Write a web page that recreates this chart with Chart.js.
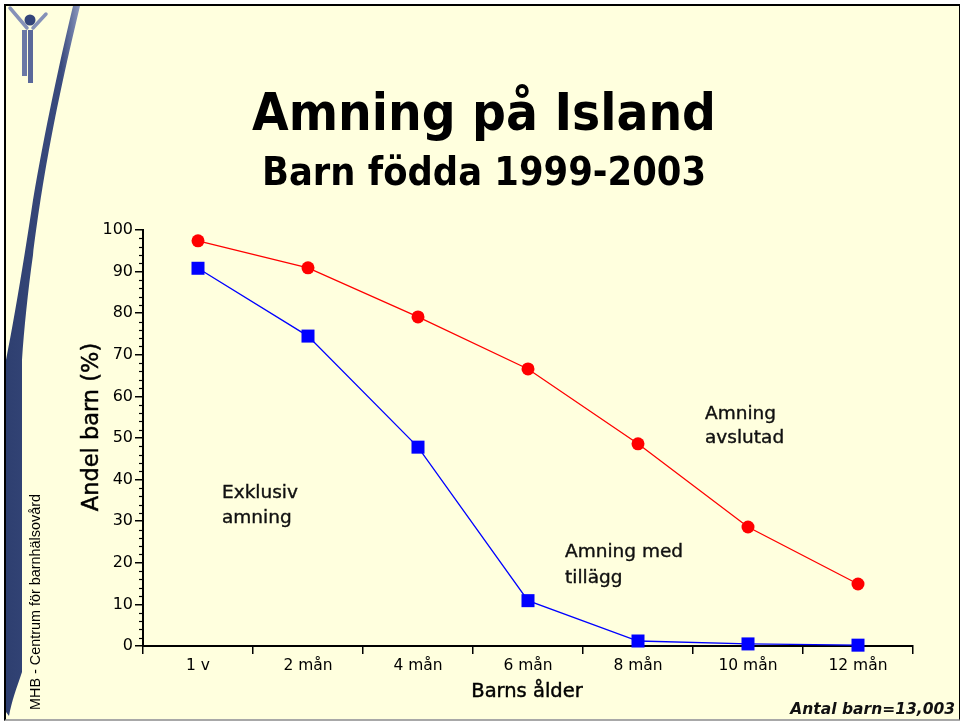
<!DOCTYPE html>
<html><head><meta charset="utf-8">
<script src="https://cdn.jsdelivr.net/npm/chart.js@4.4.1/dist/chart.umd.min.js"></script>
<style>
html,body{margin:0;padding:0;background:#fff;}
#wrap{position:relative;width:960px;height:722px;overflow:hidden;}
#frame{position:absolute;left:4px;top:4px;width:953px;height:713px;background:#FFFFDE;border-left:2px solid #000;border-top:2px solid #000;border-right:2px solid #000;border-bottom:2px solid #a8a8a8;}
svg,canvas{position:absolute;left:0;top:0;}
#txt{pointer-events:none;}
</style></head>
<body>
<div id="wrap">
<div id="frame"></div>
<svg id="deco" width="960" height="722">
  <defs>
    <linearGradient id="bandG" x1="0" x2="1" y1="0" y2="0">
      <stop offset="0" stop-color="#2e3f70"/>
      <stop offset="0.75" stop-color="#3a4b7e"/>
      <stop offset="1" stop-color="#8e9ac0"/>
    </linearGradient>
  </defs>
  <path d="M73,6 C60,60 45,130 33,200 C24,260 14,320 6,360 L6,712 L9,716 C12,700 16,690 22,672 L22,360 C24,330 28,290 33,255 C40,200 50,130 80,6 Z" fill="url(#bandG)"/>
  <line x1="10" y1="8" x2="27" y2="28" stroke="#8591b8" stroke-width="3.5" stroke-linecap="round"/>
  <line x1="46" y1="14" x2="33" y2="28" stroke="#8591b8" stroke-width="3.5" stroke-linecap="round"/>
  <circle cx="30" cy="20" r="5.5" fill="#34457a"/>
  <rect x="22" y="30" width="5" height="46" fill="#6a78a6"/>
  <rect x="28" y="30" width="5" height="53" fill="#5a689a"/>
</svg>
<canvas id="c" width="960" height="722" style="width:960px;height:722px"></canvas>
<svg id="txt" width="960" height="722">
  <text x="484" y="130" text-anchor="middle" font-family="DejaVu Sans" font-weight="bold" font-size="52" textLength="464" lengthAdjust="spacingAndGlyphs" fill="#000">Amning på Island</text>
  <text x="484" y="185" text-anchor="middle" font-family="DejaVu Sans" font-weight="bold" font-size="39" textLength="444" lengthAdjust="spacingAndGlyphs" fill="#000">Barn födda 1999-2003</text>
  <g stroke="#000" stroke-width="0.45">
    <text transform="translate(98,427) rotate(-90)" text-anchor="middle" font-family="DejaVu Sans" font-size="22.5" fill="#000">Andel barn (%)</text>
    <text x="527" y="697" text-anchor="middle" font-family="DejaVu Sans" font-size="19.5" fill="#000">Barns ålder</text>
  </g>
  <g font-family="DejaVu Sans" font-size="18.5" fill="#111" stroke="#111" stroke-width="0.4">
    <text x="222" y="498">Exklusiv</text>
    <text x="222" y="523">amning</text>
    <text x="565" y="557">Amning med</text>
    <text x="565" y="583">tillägg</text>
    <text x="705" y="419">Amning</text>
    <text x="705" y="443">avslutad</text>
  </g>
  <text x="955" y="714" text-anchor="end" font-family="DejaVu Sans" font-weight="bold" font-style="italic" font-size="15.5" fill="#111">Antal barn=13,003</text>
  <text transform="translate(40,710) rotate(-90)" font-family="Liberation Sans" font-size="15" textLength="216" lengthAdjust="spacingAndGlyphs" fill="#000">MHB - Centrum för barnhälsovård</text>
</svg>
</div>
<script>
// ---- data ----
const categories = ['1 v', '2 mån', '4 mån', '6 mån', '8 mån', '10 mån', '12 mån'];
const amningTotal = [97.4, 90.9, 79.1, 66.6, 48.6, 28.6, 14.9];   // red circles
const exklusivAmning = [90.8, 74.5, 47.8, 10.9, 1.2, 0.5, 0.2];   // blue squares
const yTickValues = [0, 10, 20, 30, 40, 50, 60, 70, 80, 90, 100];
const yMinorStep = 2;

const minorTicks = {
  id: 'minorTicks',
  afterDraw(chart) {
    const ys = chart.scales.y, ctx = chart.ctx, x0 = chart.chartArea.left;
    ctx.save();
    ctx.strokeStyle = '#000';
    ctx.lineWidth = 1.2;
    for (let v = ys.min; v <= ys.max; v += yMinorStep) {
      if (yTickValues.includes(v)) continue;
      const py = Math.round(ys.getPixelForValue(v)) + 0.5;
      ctx.beginPath(); ctx.moveTo(x0 - 4, py); ctx.lineTo(x0, py); ctx.stroke();
    }
    ctx.restore();
  }
};

new Chart(document.getElementById('c'), {
  type: 'line',
  data: {
    labels: categories,
    datasets: [
      { label: 'Exklusiv amning', data: exklusivAmning, borderColor: '#0000FF', backgroundColor: '#0000FF',
        borderWidth: 1.3, pointStyle: 'rect', pointRadius: 9.2, pointHoverRadius: 9.2, pointBorderWidth: 0, tension: 0, clip: false },
      { label: 'Amning', data: amningTotal, borderColor: '#FF0000', backgroundColor: '#FF0000',
        borderWidth: 1.3, pointStyle: 'circle', pointRadius: 6.5, pointHoverRadius: 6.5, pointBorderWidth: 0, tension: 0, clip: false }
    ]
  },
  options: {
    responsive: false,
    animation: false,
    layout: { padding: { left: 0, right: 47, top: 230, bottom: 0 } },
    plugins: { legend: { display: false }, tooltip: { enabled: false }, title: { display: false } },
    scales: {
      x: {
        offset: true,
        grid: { offset: true, drawOnChartArea: false, drawTicks: true, tickLength: 8, color: '#000', lineWidth: 1.5 },
        border: { display: true, color: '#000', width: 2 },
        ticks: { color: '#000', font: { family: 'DejaVu Sans', size: 15.5 }, padding: 3, maxRotation: 0, autoSkip: false },
        afterFit(s) { s.height = 76; }
      },
      y: {
        min: 0, max: 100,
        afterBuildTicks(s) { s.ticks = yTickValues.map(v => ({ value: v })); },
        grid: { drawOnChartArea: false, drawTicks: true, tickLength: 8, color: '#000', lineWidth: 1.5 },
        border: { display: true, color: '#000', width: 2 },
        ticks: { color: '#000', font: { family: 'DejaVu Sans', size: 16 }, padding: 2 },
        afterFit(s) { s.width = 143; }
      }
    }
  },
  plugins: [minorTicks]
});
</script>
</body></html>
